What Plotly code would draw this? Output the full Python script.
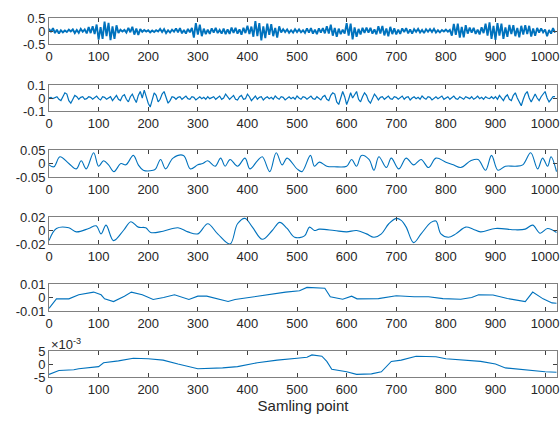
import numpy as np
import plotly.graph_objects as go
from plotly.subplots import make_subplots

# ---------------- data ----------------
step1 = 4
s1 = [
    0.09,-0.04,0.11,-0.08,0.05,-0.10,0.03,-0.05,0.02,-0.04,0.05,-0.02,0.06,-0.08,0.04,-0.07,
    0.08,-0.03,0.06,-0.09,0.15,-0.08,0.18,-0.12,0.25,-0.33,0.15,-0.30,0.36,-0.20,0.31,-0.35,
    0.18,-0.30,0.22,-0.08,0.05,-0.02,0.04,-0.06,0.12,-0.05,0.16,-0.14,0.09,-0.15,0.07,-0.03,
    0.04,-0.02,0.03,-0.05,0.02,-0.04,0.03,-0.02,0.08,-0.04,0.07,-0.08,0.03,-0.06,0.05,-0.03,
    0.10,-0.05,0.11,-0.09,0.04,-0.10,0.08,-0.05,0.12,-0.25,0.30,-0.14,0.24,-0.20,0.09,-0.12,
    0.05,-0.11,0.10,-0.06,0.12,-0.08,0.04,-0.10,0.09,-0.12,0.06,-0.11,0.13,-0.07,0.12,-0.10,
    0.06,-0.14,0.12,-0.08,0.20,-0.12,0.17,-0.22,0.38,-0.20,0.30,-0.36,0.18,-0.27,0.28,-0.15,
    0.26,-0.20,0.12,-0.25,0.18,-0.06,0.07,-0.04,0.06,-0.07,0.03,-0.06,0.07,-0.04,0.06,-0.05,
    0.03,-0.07,0.10,-0.06,0.11,-0.10,0.05,-0.12,0.10,-0.06,0.11,-0.09,0.18,-0.10,0.24,-0.18,
    0.12,-0.22,0.09,-0.12,0.05,-0.10,0.30,-0.18,0.28,-0.32,0.14,-0.22,0.08,-0.13,0.12,-0.07,
    0.13,-0.06,0.12,-0.10,0.06,-0.13,0.18,-0.10,0.19,-0.17,0.10,-0.20,0.16,-0.12,0.10,-0.13,
    0.05,-0.11,0.10,-0.04,0.11,-0.09,0.06,-0.10,0.07,-0.03,0.08,-0.06,0.04,-0.08,0.07,-0.03,
    0.07,-0.04,0.08,-0.06,0.03,-0.05,0.04,-0.02,0.05,-0.03,0.04,-0.18,0.27,-0.15,0.28,-0.25,
    0.16,-0.24,0.22,-0.10,0.13,-0.06,0.12,-0.11,0.05,-0.13,0.14,-0.08,0.28,-0.18,0.33,-0.30,
    0.20,-0.34,0.30,-0.18,0.28,-0.30,0.14,-0.22,0.23,-0.12,0.22,-0.20,0.12,-0.24,0.20,-0.14,
    0.22,-0.12,0.20,-0.21,0.10,-0.18,0.12,-0.06,0.10,-0.05,0.06,-0.20,0.04,-0.10,0.11,-0.06,
]

step2 = 4
s2 = [
    0.00,0.005,-0.005,0.00,0.01,-0.01,-0.02,0.01,0.04,0.03,-0.02,-0.04,-0.01,0.02,0.01,-0.01,
    0.005,0.01,-0.01,-0.005,0.01,0.005,-0.01,0.00,0.015,-0.005,-0.015,0.01,0.005,-0.01,0.00,0.01,
    -0.02,0.00,0.02,-0.01,-0.02,0.015,0.025,-0.01,-0.03,0.01,0.03,-0.005,-0.035,0.02,0.05,0.00,
    0.06,0.01,-0.04,-0.07,-0.02,0.04,0.02,-0.03,-0.01,0.03,0.05,0.00,-0.04,-0.02,0.01,0.005,
    -0.01,0.005,0.01,-0.01,0.00,0.015,-0.005,-0.01,0.01,0.005,-0.015,0.00,0.01,-0.005,0.005,-0.01,
    0.01,-0.005,0.005,0.01,-0.01,0.00,0.015,-0.01,0.00,0.03,0.01,-0.01,0.005,0.02,-0.01,-0.015,
    0.01,0.02,-0.01,-0.005,0.03,0.01,-0.02,0.00,0.015,-0.01,0.005,0.01,-0.015,0.00,0.01,-0.005,
    0.005,-0.01,0.015,0.00,-0.01,0.01,0.005,-0.015,0.00,0.01,-0.005,0.005,-0.01,0.015,0.00,-0.01,
    0.01,0.005,-0.01,0.00,0.015,-0.005,-0.01,0.01,0.00,-0.015,0.01,0.02,-0.01,-0.02,0.02,0.04,
    0.03,-0.03,-0.05,0.01,0.05,0.01,-0.05,-0.01,0.04,0.00,0.03,0.05,-0.01,-0.03,0.01,0.04,
    0.02,-0.02,-0.04,0.00,0.03,0.01,-0.015,0.005,0.01,-0.01,0.00,0.015,-0.005,-0.01,0.01,0.005,
    -0.01,0.00,0.015,-0.01,0.005,0.01,-0.015,0.00,0.01,-0.005,0.005,-0.01,0.015,0.00,-0.01,0.01,
    0.005,-0.015,0.00,0.01,-0.005,0.005,0.015,-0.01,0.00,0.01,-0.01,0.005,0.015,-0.005,-0.01,0.01,
    0.00,-0.01,0.01,0.005,-0.005,0.01,-0.01,0.00,0.015,-0.005,0.005,-0.01,0.01,0.00,-0.005,0.01,
    -0.005,0.01,-0.01,0.02,-0.005,-0.02,0.01,0.025,-0.01,-0.02,0.02,0.04,0.00,-0.03,-0.06,-0.01,
    0.03,0.05,0.00,-0.03,0.00,0.03,0.00,-0.02,0.01,0.03,0.05,0.00,-0.03,-0.01,0.01,0.01,
]

x3 = [0,10,22,40,55,65,75,90,100,110,120,131,145,155,170,180,190,210,215,225,
      235,250,271,285,300,310,320,335,346,355,365,380,395,405,420,430,445,458,470,480,
      500,510,527,535,545,560,575,600,610,620,630,645,655,665,680,690,705,720,735,750,
      765,780,800,815,830,850,865,880,892,905,920,940,955,971,985,995,1005,1012,1023]
y3 = [-0.005,-0.012,0.025,0.0,-0.02,0.01,-0.02,0.04,-0.01,0.01,
      -0.005,-0.03,0.0,-0.005,0.03,-0.005,-0.025,-0.025,-0.02,0.015,
      -0.02,0.02,0.03,-0.02,-0.005,0.0,0.01,-0.01,0.02,-0.01,
      0.015,-0.01,0.02,-0.02,0.01,0.025,-0.03,0.04,-0.005,0.02,
      -0.02,-0.03,0.03,-0.01,0.005,-0.01,-0.012,-0.01,0.015,-0.01,
      0.03,0.015,-0.025,0.025,-0.015,0.02,-0.02,0.02,-0.005,0.015,
      -0.015,0.02,0.005,-0.005,-0.015,0.01,0.015,-0.025,0.03,-0.025,
      -0.01,-0.01,-0.005,0.04,-0.02,0.02,-0.01,0.025,-0.03]

x4 = [0,15,40,55,80,95,105,115,130,150,165,180,195,205,230,260,280,300,320,340,
      365,380,395,410,430,450,465,480,495,515,525,535,545,575,600,620,640,655,670,685,
      700,710,720,735,750,770,780,790,805,820,840,855,870,900,940,960,975,990,1005,1023]
y4 = [-0.015,0.003,0.004,-0.002,0.003,0.007,-0.005,0.008,-0.015,0.0,
      0.013,0.005,0.004,-0.003,-0.001,0.004,-0.002,-0.005,0.01,-0.005,
      -0.02,0.01,0.018,0.005,-0.013,0.0,0.012,0.003,-0.01,-0.008,
      0.005,0.0,0.002,0.0,-0.002,0.0,-0.005,-0.01,-0.005,0.01,
      0.018,0.015,0.005,-0.018,-0.005,0.012,0.014,-0.005,-0.01,-0.005,
      0.005,0.002,-0.002,0.003,0.001,0.002,0.008,-0.004,0.003,-0.003]

x5 = [0,15,40,60,90,105,112,130,152,166,188,210,231,253,282,300,318,340,361,375,
      404,433,477,505,520,556,567,592,610,621,664,700,736,765,794,830,852,866,895,924,
      960,975,996,1014,1023]
y5 = [-0.008,-0.001,-0.001,0.002,0.004,0.002,-0.001,-0.003,0.001,0.004,
      0.002,-0.0015,0.0,0.002,-0.0015,0.001,0.001,-0.001,-0.003,-0.0015,
      0.0,0.002,0.004,0.005,0.0075,0.0068,0.0005,-0.0013,0.001,-0.001,
      -0.0008,0.0013,0.0005,0.0005,-0.0008,-0.0013,0.0,0.002,0.0018,-0.0008,
      -0.003,0.004,-0.001,-0.004,-0.0043]

x6 = [0,20,50,60,100,110,140,170,200,230,260,300,350,380,420,460,500,520,530,550,
      560,570,600,620,650,670,690,710,740,780,800,840,870,900,920,1000,1023]
y6 = [-4.0,-2.5,-2.2,-1.8,-1.0,0.5,1.2,2.2,2.0,1.5,0.0,-1.8,-1.5,-1.0,0.5,1.5,2.2,2.6,3.5,3.0,
      1.0,-2.0,-3.0,-4.0,-3.8,-3.0,1.0,1.5,3.0,2.8,2.0,1.5,1.0,0.0,-1.5,-3.0,-3.2]

x_ticks = [0,100,200,300,400,500,600,700,800,900,1000]
y_ticks = [[-0.5,0,0.5],[-0.1,0,0.1],[-0.05,0,0.05],[-0.02,0,0.02],[-0.01,0,0.01],[-5,0,5]]
y_ticktext = [["-0.5","0","0.5"],["-0.1","0","0.1"],["-0.05","0","0.05"],
              ["-0.02","0","0.02"],["-0.01","0","0.01"],["-5","0","5"]]
y_ranges = [[-0.5,0.5],[-0.1,0.1],[-0.05,0.05],[-0.02,0.02],[-0.01,0.01],[-5,5]]
x_title = "Samling point"

# ---------------- figure ----------------
series = [
    (np.arange(len(s1)) * step1, s1),
    (np.arange(len(s2)) * step2, s2),
    (x3, y3), (x4, y4), (x5, y5), (x6, y6),
]

fig = make_subplots(rows=6, cols=1)
blue = "#0072BD"
widths = [1.9, 1.2, 1.1, 1.1, 1.1, 1.1]
for i, (xs, ys) in enumerate(series):
    shape = "spline" if i in (2, 3) else "linear"
    fig.add_trace(go.Scatter(x=list(xs), y=list(ys), mode="lines",
                             line=dict(color=blue, width=widths[i], shape=shape),
                             showlegend=False, hoverinfo="skip"),
                  row=i + 1, col=1)

W, H = 560, 422
top_m, bot_m = 18, 45
plot_h = H - top_m - bot_m
panel_px = [(18, 44), (85, 111), (150, 177), (217, 244), (284, 311), (351, 377)]
font = dict(family="Liberation Sans, Arial, sans-serif", size=13, color="#262626")
for i, (t, b) in enumerate(panel_px):
    dom = [(377 - b) / plot_h, (377 - t) / plot_h]
    xa = "xaxis" if i == 0 else f"xaxis{i+1}"
    ya = "yaxis" if i == 0 else f"yaxis{i+1}"
    fig.layout[ya].update(domain=dom, range=y_ranges[i], tickvals=y_ticks[i],
                          ticktext=y_ticktext[i], ticks="inside", ticklen=4,
                          tickcolor="#404040", showline=True, linecolor="#808080",
                          linewidth=1, mirror="ticks", showgrid=False, zeroline=False,
                          tickfont=font, fixedrange=True, automargin=False)
    fig.layout[xa].update(range=[0, 1024], tickvals=x_ticks, ticks="inside", ticklen=4,
                          tickcolor="#404040", showline=True, linecolor="#808080",
                          linewidth=1, mirror="ticks", showgrid=False, zeroline=False,
                          tickfont=font, fixedrange=True, automargin=False)

fig.layout["xaxis6"].update(title=dict(text=x_title,
                                       font=dict(family=font["family"], size=15, color="#262626"),
                                       standoff=4))

fig.add_annotation(text="×10<sup>-3</sup>", xref="paper", yref="paper",
                   x=0, y=(377 - 351) / plot_h, xanchor="left", yanchor="bottom",
                   yshift=-3, xshift=0, showarrow=False,
                   font=dict(family=font["family"], size=13, color="#262626"))

fig.update_layout(width=W, height=H, margin=dict(l=49, r=3, t=top_m, b=bot_m),
                  paper_bgcolor="white", plot_bgcolor="white")

fig.write_html("out.html", config={"displayModeBar": False},
               post_script="document.body.style.margin='0';document.body.style.overflow='hidden';")
